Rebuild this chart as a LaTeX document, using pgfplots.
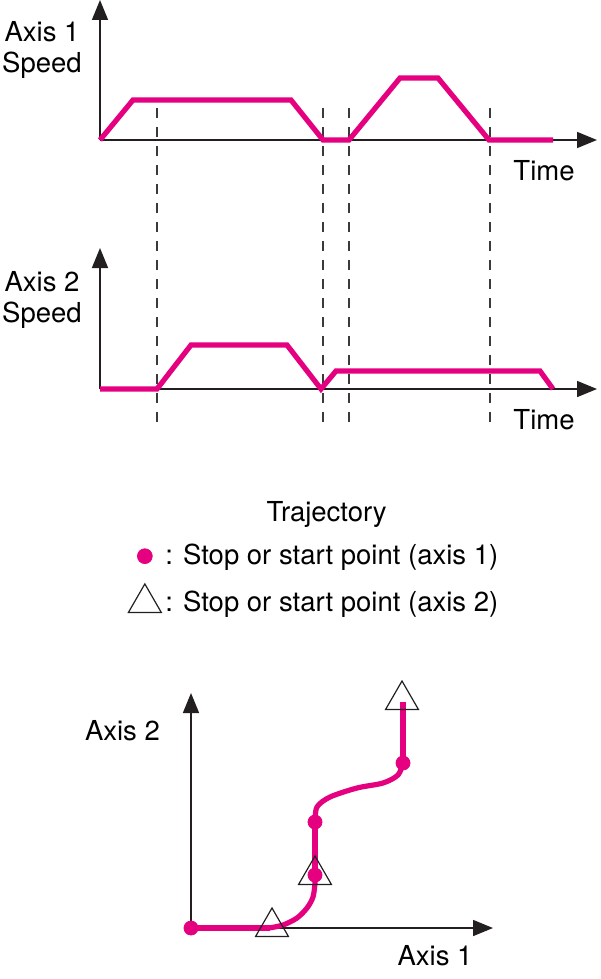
\documentclass[border=0pt]{standalone}
\usepackage{pgfplots}
\pgfplotsset{compat=1.18}
\usepackage{fontspec}
\setmainfont{TeX Gyre Heros}
\usetikzlibrary{arrows.meta}
\definecolor{pinkline}{HTML}{E4007F}
\definecolor{axgray}{HTML}{231F20}
\definecolor{dashgray}{HTML}{3A3A3A}
\newcommand{\lblfont}{\fontsize{13.75}{16}\selectfont}

\pgfplotsset{
  diag/.style={
    scale only axis, axis lines=left, x=0.5pt, y=0.5pt,
    xmin=0, ymin=0, enlargelimits=false, clip=false,
    xtick=\empty, ytick=\empty,
    axis line style={draw=axgray, line width=0.8pt, -{Triangle[length=10pt,width=8pt]}},
    anchor=south west,
  },
  speedline/.style={draw=pinkline, line width=2.6pt, line join=miter, line cap=butt, mark=none},
  guide/.style={draw=dashgray, line width=0.6pt, dash pattern=on 5pt off 4.5pt, mark=none},
  stopdot/.style={only marks, mark=*, mark size=3.5pt, color=pinkline},
  stoptri/.style={only marks, mark=triangle, mark size=9.5pt, draw=axgray, mark options={line width=0.6pt}},
}

\begin{document}
\begin{tikzpicture}
\useasboundingbox (0pt,0pt) rectangle (300pt,-489.5pt);

% ---------- Axis 1 speed ----------
\begin{axis}[diag, at={(50pt,-70pt)}, xmax=497, ymax=140]
  \addplot[guide] coordinates {(57,32) (57,-287)};
  \addplot[guide] coordinates {(223,32) (223,-287)};
  \addplot[guide] coordinates {(249,32) (249,-287)};
  \addplot[guide] coordinates {(390,32) (390,-287)};
  \addplot[speedline] coordinates {
    (0,0) (33,40) (191,40) (223,0) (249,0) (300,62) (338,62) (389,0) (453,0)};
  \node[font=\lblfont, anchor=base] at (axis cs:-58,98) {Axis 1};
  \node[font=\lblfont, anchor=base] at (axis cs:-58,67) {Speed};
  \node[font=\lblfont, anchor=base] at (axis cs:444,-40) {Time};
\end{axis}

% ---------- Axis 2 speed ----------
\begin{axis}[diag, at={(50pt,-194.5pt)}, xmax=497, ymax=141]
  \addplot[speedline] coordinates {
    (0,0) (57,0) (91,44) (187,44) (221,0) (236,18) (440,18) (453,0)};
  \node[font=\lblfont, anchor=base] at (axis cs:-58,98) {Axis 2};
  \node[font=\lblfont, anchor=base] at (axis cs:-58,67) {Speed};
  \node[font=\lblfont, anchor=base] at (axis cs:444,-40) {Time};
\end{axis}

% ---------- Trajectory ----------
\node[font=\lblfont, anchor=base] at (163.35pt,-260.85pt) {Trajectory};

\begin{axis}[diag, at={(95.5pt,-464pt)}, xmax=302, ymax=235,
  legend style={draw=none, fill=none, inner sep=0pt, font=\lblfont,
    at={(axis cs:-63,388)}, anchor=north west, row sep=6pt},
  legend cell align=left]
  \addlegendimage{stopdot, mark size=3.7pt}
  \addlegendentry{: Stop or start point (axis 1)}
  \addlegendimage{stoptri}
  \addlegendentry{: Stop or start point (axis 2)}

  \addplot[speedline, forget plot] coordinates {(0,0) (79,0)};
  \addplot[speedline, smooth, line cap=round, forget plot] coordinates {
    (78,0) (92,3) (106,10) (116,20) (122,31) (124,45) (124,53)};
  \addplot[speedline, forget plot] coordinates {(124,53) (124,106)};
  \addplot[speedline, smooth, line cap=round, forget plot] coordinates {
    (124,106) (126,121) (139,131) (166,140) (192,145) (207,153) (212,165)};
  \addplot[speedline, forget plot] coordinates {(212,165) (212,226)};

  \addplot[stopdot, forget plot] coordinates {(0,0) (124,53) (124,106) (212,165)};
  \addplot[stoptri, forget plot] coordinates {(81,1) (124,53) (211,228)};

  \node[font=\lblfont, anchor=base east] at (axis cs:-24,188) {Axis 2};
  \node[font=\lblfont, anchor=base] at (axis cs:244,-37) {Axis 1};
\end{axis}
\end{tikzpicture}
\end{document}
